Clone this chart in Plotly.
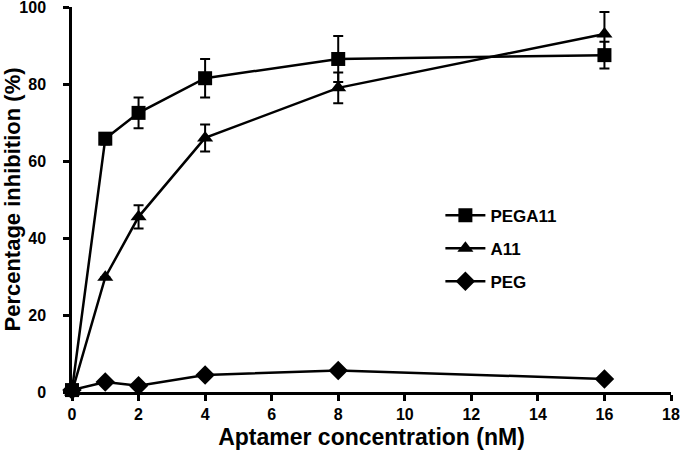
import plotly.graph_objects as go

conc = [0, 1, 2, 4, 8, 16]

pega11 = [0.5, 65.8, 72.5, 81.5, 86.5, 87.5]
pega11_err = [0, 1.5, 4, 5, 6, 3.5]

a11 = [0, 29.8, 45.5, 66, 79, 93]
a11_err = [0, 0, 3, 3.5, 4, 5.7]

peg = [0.5, 2.6, 1.6, 4.4, 5.6, 3.4]

fnt = dict(family="Liberation Sans, Arial", size=16, color="black", weight="bold")

fig = go.Figure()
fig.add_trace(go.Scatter(x=conc, y=pega11, name="PEGA11", mode="lines+markers", legendgroup="a",
                         line=dict(color="black", width=2.5),
                         marker=dict(symbol="square", size=14, color="black"),
                         error_y=dict(type="data", array=pega11_err, color="black", thickness=2, width=5),
                         cliponaxis=False))
fig.add_trace(go.Scatter(x=conc, y=a11, name="A11", mode="lines+markers", legendgroup="b",
                         line=dict(color="black", width=2.5),
                         marker=dict(symbol="triangle-up", size=14, color="black"),
                         error_y=dict(type="data", array=a11_err, color="black", thickness=2, width=5),
                         cliponaxis=False))
fig.add_trace(go.Scatter(x=conc, y=peg, name="PEG", mode="lines+markers", legendgroup="c",
                         line=dict(color="black", width=2.5),
                         marker=dict(symbol="diamond", size=15, color="black"),
                         cliponaxis=False))

fig.update_layout(
    width=680, height=460,
    margin=dict(l=72, r=9, t=7, b=68),
    paper_bgcolor="white", plot_bgcolor="white",
    font=fnt,
    showlegend=True,
    legend=dict(x=0.615, y=0.505, xanchor="left", yanchor="top",
                font=dict(family="Liberation Sans, Arial", size=17, color="black", weight="bold"),
                bgcolor="rgba(0,0,0,0)", tracegroupgap=8, itemwidth=40),
)
fig.update_xaxes(range=[0, 18], dtick=2, showline=True, linecolor="black", linewidth=2.5,
                 ticks="outside", ticklen=6, tickwidth=2.5, tickcolor="black",
                 showgrid=False, zeroline=False, ticklabeloverflow="allow", automargin=False,
                 title=dict(text="Aptamer concentration (nM)", font=dict(size=23), standoff=7))
fig.update_yaxes(range=[0, 100], dtick=20, showline=True, linecolor="black", linewidth=2.5,
                 ticks="outside", ticklen=6, tickwidth=2.5, tickcolor="black",
                 showgrid=False, zeroline=False, ticklabeloverflow="allow", ticklabelstandoff=14,
                 automargin=False,
                 title=dict(text="Percentage inhibition (%)", font=dict(size=22), standoff=4))

fig.write_html("out.html", config={"displayModeBar": False},
               post_script="document.body.style.margin='0';")
